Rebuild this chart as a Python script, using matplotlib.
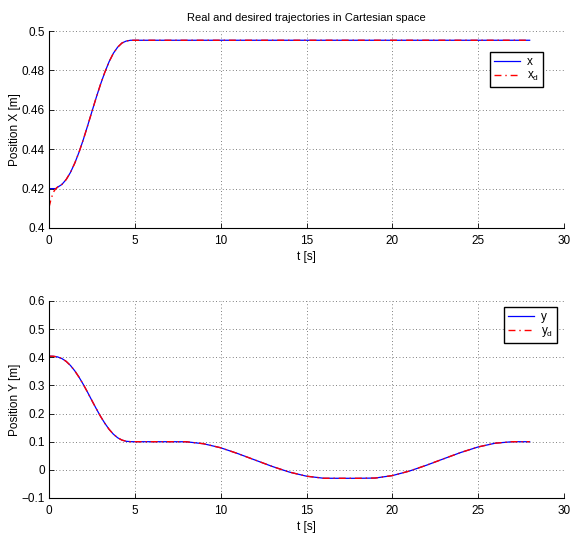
import matplotlib
matplotlib.use("Agg")
import matplotlib.pyplot as plt

plt.rcParams['font.family'] = ['Liberation Sans', 'DejaVu Sans']
plt.rcParams['mathtext.fontset'] = 'custom'
plt.rcParams['mathtext.rm'] = 'Liberation Sans'

# ---- data ----
t_x = [0, 0.1, 0.2, 0.3, 0.4, 0.5, 0.75, 1.0, 1.25, 1.5, 1.75, 2.0, 2.25, 2.5,
       2.75, 3.0, 3.25, 3.5, 3.75, 4.0, 4.25, 4.5, 4.75, 5.0, 10, 15, 20, 25, 28]
x_real = [0.4200, 0.4200, 0.4200, 0.4200, 0.4200, 0.4207, 0.4221, 0.4246, 0.4282,
          0.4329, 0.4385, 0.4449, 0.4519, 0.4591, 0.4662, 0.4729, 0.4790, 0.4844,
          0.4887, 0.4918, 0.4939, 0.4949, 0.4953, 0.4953, 0.4953, 0.4953, 0.4953,
          0.4953, 0.4953]
x_des = [0.4105, 0.4140, 0.4168, 0.4188, 0.4200, 0.4208, 0.4221, 0.4246, 0.4282,
         0.4329, 0.4385, 0.4449, 0.4519, 0.4591, 0.4662, 0.4729, 0.4790, 0.4844,
         0.4887, 0.4918, 0.4939, 0.4949, 0.4953, 0.4953, 0.4953, 0.4953, 0.4953,
         0.4953, 0.4953]

t_y = [0, 0.25, 0.5, 0.75, 1.0, 1.25, 1.5, 1.75, 2.0, 2.25, 2.5, 2.75, 3.0, 3.25,
       3.5, 3.75, 4.0, 4.25, 4.5, 4.75, 5.0, 6, 7, 8, 9, 10, 11, 12, 13, 14, 15,
       16, 17, 18, 19, 20, 21, 22, 23, 24, 25, 26, 27, 28]
y_real = [0.404, 0.4036, 0.4013, 0.3955, 0.3855, 0.3709, 0.3520, 0.3292, 0.3034,
          0.2754, 0.2462, 0.2176, 0.1903, 0.1657, 0.1441, 0.1268, 0.1140, 0.1058,
          0.1015, 0.1002, 0.1000, 0.1000, 0.1000, 0.0998, 0.0928, 0.0785, 0.0578,
          0.0350, 0.0122, -0.0079, -0.0225, -0.0298, -0.0300, -0.0300, -0.0291,
          -0.0204, -0.0042, 0.0167, 0.0396, 0.0620, 0.0814, 0.0948, 0.1000, 0.1000]
y_des = [0.404, 0.4036, 0.4013, 0.3955, 0.3855, 0.3709, 0.3520, 0.3292, 0.3034,
         0.2754, 0.2462, 0.2176, 0.1903, 0.1657, 0.1441, 0.1268, 0.1140, 0.1058,
         0.1015, 0.1002, 0.1000, 0.1000, 0.1000, 0.0998, 0.0928, 0.0785, 0.0578,
         0.0350, 0.0122, -0.0079, -0.0225, -0.0298, -0.0300, -0.0300, -0.0291,
         -0.0204, -0.0042, 0.0167, 0.0396, 0.0620, 0.0814, 0.0948, 0.1000, 0.1000]

x_ticks = [0, 5, 10, 15, 20, 25, 30]
yx_ticks = [0.4, 0.42, 0.44, 0.46, 0.48, 0.5]
yx_labels = ['0.4', '0.42', '0.44', '0.46', '0.48', '0.5']
yy_ticks = [-0.1, 0, 0.1, 0.2, 0.3, 0.4, 0.5, 0.6]
yy_labels = ['\u22120.1', '0', '0.1', '0.2', '0.3', '0.4', '0.5', '0.6']

W, H = 573, 538
fig = plt.figure(figsize=(W / 100, H / 100), dpi=100)

def rect(l, r, t, b):
    return [l / W, 1 - b / H, (r - l) / W, (b - t) / H]

ax1 = fig.add_axes(rect(49, 564, 31, 228))
ax2 = fig.add_axes(rect(49, 564, 301, 498))

dash = (0, (5, 2.8, 1, 2.8))

def style(ax, yt, yl, ylim, ylabel):
    ax.set_xlim(0, 30)
    ax.set_ylim(*ylim)
    ax.set_xticks(x_ticks)
    ax.set_xticklabels([str(v) for v in x_ticks])
    ax.set_yticks(yt)
    ax.set_yticklabels(yl)
    for s in ('top', 'right'):
        ax.spines[s].set_visible(False)
    for s in ('left', 'bottom'):
        ax.spines[s].set_linewidth(0.8)
    ax.tick_params(direction='in', length=3.5, width=0.6, labelsize=8.5,
                   top=False, right=False)
    ax.tick_params(axis='x', pad=5)
    ax.tick_params(axis='y', pad=3)
    ax.grid(True, color='#555555', linestyle=(0, (1, 3)), linewidth=0.6)
    ax.set_xlabel('t [s]', fontsize=8.5, labelpad=3)
    ax.set_ylabel(ylabel, fontsize=8.5, labelpad=0.5)

ax1.plot(t_x, x_real, color='#0000ff', lw=0.9, label='x')
ax1.plot(t_x, x_des, color='#ff0000', lw=1.0, linestyle=dash, label='x$_\\mathrm{d}$')
style(ax1, yx_ticks, yx_labels, (0.4, 0.5), 'Position X [m]')
ax1.set_title('Real and desired trajectories in Cartesian space', fontsize=8, pad=7)
leg1 = ax1.legend(loc='upper right', bbox_to_anchor=((543 - 49) / 515, 1 - 21 / 197),
                  fontsize=8.5, fancybox=False, framealpha=1, edgecolor='black',
                  handlelength=2.2, handletextpad=0.6, borderpad=0.35,
                  labelspacing=0.15, borderaxespad=0)
leg1.get_frame().set_linewidth(1.0)

ax2.plot(t_y, y_real, color='#0000ff', lw=0.9, label='y')
ax2.plot(t_y, y_des, color='#ff0000', lw=1.0, linestyle=dash, label='y$_\\mathrm{d}$')
style(ax2, yy_ticks, yy_labels, (-0.1, 0.6), 'Position Y [m]')
leg2 = ax2.legend(loc='upper right', bbox_to_anchor=((557 - 49) / 515, 1 - 6 / 197),
                  fontsize=8.5, fancybox=False, framealpha=1, edgecolor='black',
                  handlelength=2.2, handletextpad=0.6, borderpad=0.35,
                  labelspacing=0.15, borderaxespad=0)
leg2.get_frame().set_linewidth(1.0)

fig.savefig('out.png', dpi=100)
